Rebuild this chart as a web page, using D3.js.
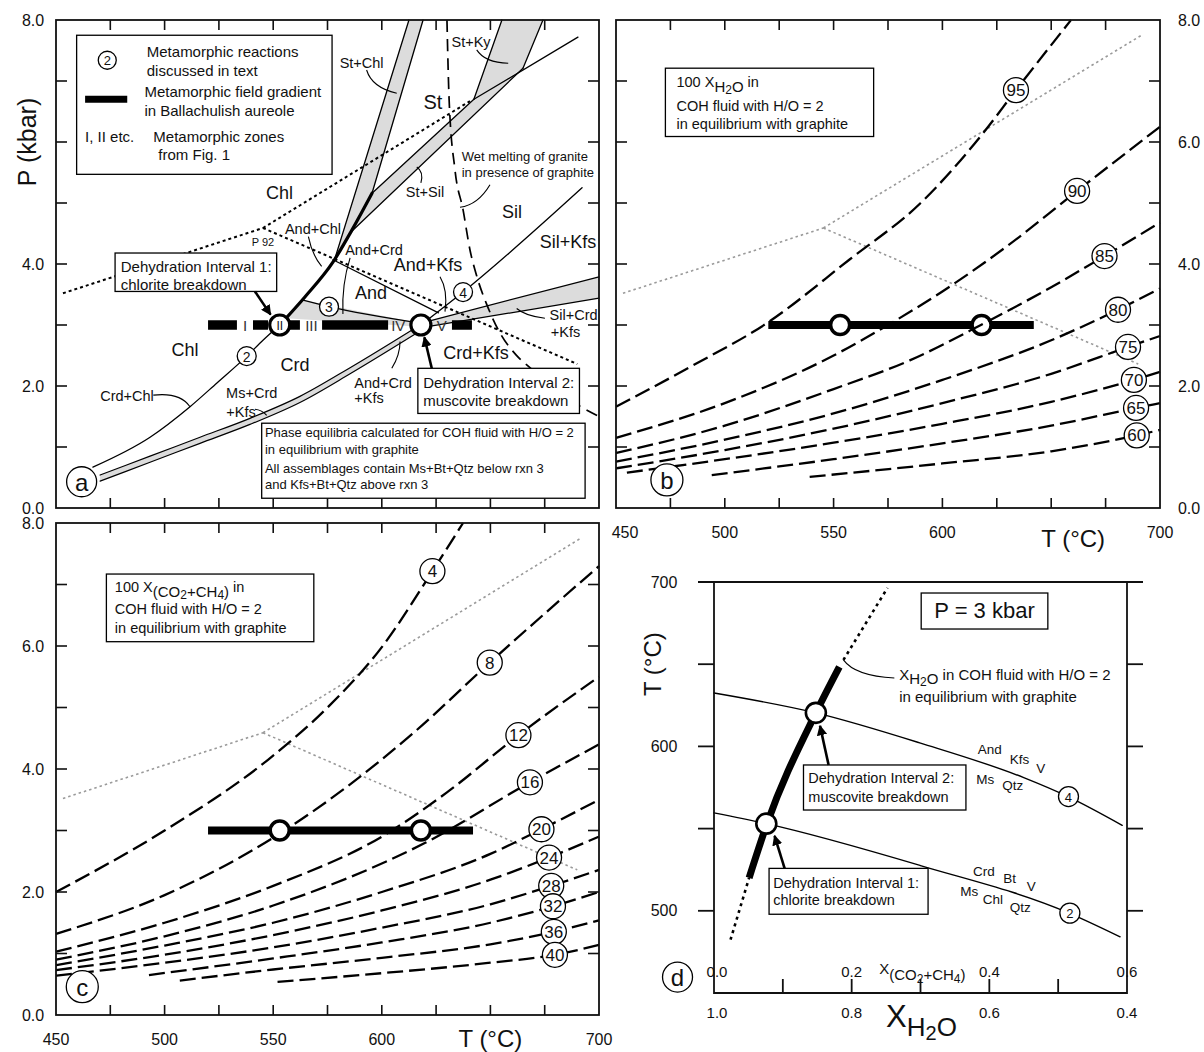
<!DOCTYPE html>
<html lang="en">
<head>
<meta charset="UTF-8" />
<script src="https://cdn.jsdelivr.net/npm/d3@7"></script>
<title>Ballachulish aureole phase diagrams</title>
<style>
  body { margin: 0; background: #fff; }
  svg { font-family: "Liberation Sans", Arial, Helvetica, sans-serif; }
</style>
</head>
<body>
<svg id="fig" width="1204" height="1052"></svg>
<script>
// ---------------- data ----------------
// axes
const tTicks = d3.range(475, 700, 25);
const pTicks = d3.range(1, 8);
const pLabels = [0, 2, 4, 6, 8];
const tLabels = [450, 500, 550, 600, 650, 700];

// panel a curves, [T degC, P kbar]
const rxn2 = [[467, 0.67], [493.3, 1.16], [511.7, 1.66], [524.1, 2.05], [537.9, 2.49], [545.3, 2.75], [553, 3.0]];
const rxn2Thick = [[553, 3.0], [564.6, 3.46], [577.5, 4.03], [586.3, 4.56], [595.5, 5.16]];
const stChlLeft = [[578.5, 4.10], [612.5, 8.0]];
const stChlRight = [[595.5, 5.16], [619, 8.0]];
const stSilLower = [[585.7, 4.52], [665, 7.21]];
const stSilUpper = [[595.5, 5.16], [642.4, 6.70]];
const kySil = [[642.4, 6.70], [690.3, 7.72]];
const stKyLeft = [[642.4, 6.70], [655.3, 8.0]];
const stKyRight = [[665, 7.21], [674.2, 8.0]];
const andSil = [[577.5, 4.07], [626.1, 3.20]];
const rxn3 = [[563.3, 3.41], [575.7, 3.30], [617.6, 3.03]];
const rxn4 = [[618, 3.0], [637.4, 3.54], [692.2, 5.25]];
const wetMelt = [[630, 8.0], [631, 6.69], [633.7, 5.54], [637.4, 4.89], [640.6, 4.23], [643.8, 3.79],
  [648.4, 3.33], [654.4, 2.87], [661.8, 2.51], [668.2, 2.30], [679.7, 1.97], [691.2, 1.67], [699.5, 1.51]];
const p92Left = [[453.2, 3.52], [545.3, 4.59]];
const p92KyA = [[545.3, 4.59], [640.6, 6.67]];
const p92KyB = [[545.3, 4.59], [691.5, 7.75]];
const p92Sil = [[545.3, 4.59], [690, 2.36]];
// bands [T, Plow, Phigh]
const msCrdKfs = [[470.3, 0.44, 0.54], [493.3, 0.75, 0.85], [516.3, 1.06, 1.16], [539.3, 1.37, 1.47],
  [562.3, 1.73, 1.83], [585.4, 2.20, 2.30], [616.7, 2.88, 2.98]];
const silCrdKfs = [[619, 2.96, 3.04], [700, 3.44, 3.79]];
const stChlFill = [[578.5, 4.10], [612.5, 8.0], [619, 8.0], [595.5, 5.16], [586.3, 4.56]];
const stSilFill = [[585.7, 4.52], [665, 7.21], [642.4, 6.70], [595.5, 5.16], [586.3, 4.56]];
const stKyFill = [[642.4, 6.70], [655.3, 8.0], [674.2, 8.0], [665, 7.21]];
const rxn3Fill = [[563.3, 3.41], [617.6, 3.03], [617.6, 2.97], [555.7, 3.11]];

// field gradient at 3 kbar and dehydration points
const gradientP = 3;
const gradientT = [520, 642];
const gradientSegs = [[520, 533.3], [540.7, 547.6], [556.8, 562.3], [572.5, 602.9], [632.3, 641.5]];
const zoneLabels = [["I", 537], ["III", 567.6], ["IV", 607.6], ["V", 627.6]];
const dehydT = [553, 618];

// panel b isopleths, 100 X(H2O)
const h2oLabels = [95, 90, 85, 80, 75, 70, 65, 60];
const h2oLabelT = [633.8, 661.9, 674.5, 680.7, 685.3, 688, 689, 689.3];
const h2oLines = [
  [[450, 1.66], [485, 2.33], [519.3, 3.03], [557.2, 4.07], [590, 5.0], [618.6, 6.14], [633.8, 6.85], [659.1, 8.0]],
  [[450, 1.15], [500, 1.72], [550, 2.5], [575, 3.0], [600, 3.55], [630, 4.3], [662, 5.2], [700, 6.25]],
  [[450, 0.9], [500, 1.35], [550, 1.95], [585, 2.42], [617.7, 3.0], [650, 3.62], [674.5, 4.13], [700, 4.68]],
  [[450, 0.76], [500, 1.12], [550, 1.55], [600, 2.1], [650, 2.75], [680.7, 3.25], [700, 3.6]],
  [[450, 0.65], [500, 0.95], [550, 1.3], [600, 1.72], [650, 2.2], [685.3, 2.64], [700, 2.82]],
  [[455, 0.58], [500, 0.8], [550, 1.07], [600, 1.38], [650, 1.74], [688, 2.1], [700, 2.23]],
  [[494, 0.54], [550, 0.8], [600, 1.06], [650, 1.35], [689, 1.64], [700, 1.72]],
  [[539, 0.51], [600, 0.73], [650, 0.93], [689.3, 1.19], [700, 1.28]]
];

// panel c isopleths, 100 X(CO2+CH4)
const co2Labels = [4, 8, 12, 16, 20, 24, 28, 32, 36, 40];
const co2LabelT = [623.3, 649.7, 662.9, 668.2, 673.5, 677, 678, 678.8, 679.2, 679.7];
const co2Lines = [
  [[450, 2.0], [500, 3.0], [547.6, 4.15], [575, 5.0], [600.4, 6.0], [623, 7.2], [637.4, 8.0]],
  [[450, 1.32], [500, 1.95], [553, 2.95], [582, 3.66], [615, 4.6], [649.7, 5.73], [700, 7.3]],
  [[450, 1.03], [500, 1.5], [550, 2.1], [600, 2.9], [630, 3.62], [662.9, 4.55], [700, 5.5]],
  [[450, 0.9], [500, 1.28], [550, 1.78], [620, 2.8], [668, 3.78], [700, 4.4]],
  [[450, 0.81], [500, 1.13], [550, 1.5], [600, 2.0], [650, 2.62], [673.5, 3.02], [700, 3.5]],
  [[450, 0.73], [500, 0.98], [550, 1.3], [600, 1.7], [650, 2.2], [677, 2.56], [700, 2.9]],
  [[450, 0.64], [500, 0.85], [550, 1.1], [600, 1.42], [650, 1.8], [678, 2.1], [700, 2.36]],
  [[492.8, 0.65], [550, 0.92], [600, 1.18], [650, 1.5], [679, 1.77], [700, 2.0]],
  [[507, 0.56], [550, 0.74], [600, 0.93], [650, 1.15], [679, 1.35], [700, 1.54]],
  [[552, 0.54], [600, 0.68], [650, 0.85], [680, 0.98], [700, 1.14]]
];

// panel d, [X(CO2+CH4), T]
const dTLabels = [500, 600, 700];
const dTTicks = [500, 550, 600, 650, 700];
const dXTicks = [0.1, 0.2, 0.3, 0.4, 0.5];
const dXLabels = [0, 0.2, 0.4, 0.6];
const rxn4D = [[0, 632.5], [0.148, 620.4], [0.3, 602], [0.45, 581], [0.515, 569.3], [0.593, 552]];
const rxn2D = [[0, 559.6], [0.076, 553], [0.3, 527.5], [0.515, 498.8], [0.59, 484.2]];
const fluidLow = [[0.024, 482.4], [0.051, 520]];
const fluidMain = [[0.051, 520], [0.077, 553], [0.148, 620.4], [0.182, 648.3]];
const fluidHigh = [[0.188, 652.6], [0.252, 696.4]];
const dehydD = [[0.076, 553], [0.148, 620.4]];

// ---------------- scales ----------------
const svg = d3.select("#fig");
svg.append("rect").attr("width", 1204).attr("height", 1052).attr("fill", "#fff");
const xA = d3.scaleLinear().domain([450, 700]).range([56, 599]);
const yA = d3.scaleLinear().domain([0, 8]).range([508, 20]);
const xB = d3.scaleLinear().domain([450, 700]).range([616, 1160]);
const yB = yA;
const xC = xA;
const yC = d3.scaleLinear().domain([0, 8]).range([1015, 523]);
const xD = d3.scaleLinear().domain([0, 0.6]).range([714, 1127]);
const yD = d3.scaleLinear().domain([450, 700]).range([993, 582]);

const GRAY = "#dcdcdc";
const defs = svg.append("defs");
defs.append("marker").attr("id", "ah").attr("viewBox", "0 0 10 10")
  .attr("refX", 9).attr("refY", 5).attr("markerWidth", 4).attr("markerHeight", 4)
  .attr("orient", "auto").append("path").attr("d", "M0,0L10,5L0,10z").attr("fill", "#000");

// ---------------- helpers ----------------
function lineGen(x, y, curve) {
  return d3.line().x(d => x(d[0])).y(d => y(d[1])).curve(curve || d3.curveMonotoneX);
}
function path(g, x, y, pts, w, dash, col, curve) {
  return g.append("path").attr("d", lineGen(x, y, curve)(pts)).attr("fill", "none")
    .attr("stroke", col || "#000").attr("stroke-width", w).attr("stroke-dasharray", dash || null)
    .attr("stroke-linecap", dash ? "butt" : "round");
}
function poly(g, x, y, pts) {
  g.append("path").attr("d", lineGen(x, y, d3.curveLinear)(pts) + "Z").attr("fill", GRAY).attr("stroke", "none");
}
function band(g, x, y, pts) {
  g.append("path").attr("fill", GRAY).attr("stroke", "none")
    .attr("d", d3.area().x(d => x(d[0])).y0(d => y(d[1])).y1(d => y(d[2])).curve(d3.curveMonotoneX)(pts));
  path(g, x, y, pts.map(d => [d[0], d[1]]), 1.2);
  path(g, x, y, pts.map(d => [d[0], d[2]]), 1.2);
}
function txt(g, x, y, s, size, anchor) {
  return g.append("text").attr("x", x).attr("y", y).attr("font-size", size)
    .attr("text-anchor", anchor || "middle").attr("dominant-baseline", "central").attr("fill", "#111").text(s);
}
function rich(g, x, y, parts, size, anchor) {
  const t = g.append("text").attr("x", x).attr("y", y).attr("font-size", size)
    .attr("text-anchor", anchor || "start").attr("fill", "#111");
  parts.forEach(([s, dy, fs]) => t.append("tspan").attr("dy", dy).attr("font-size", fs || size).text(s));
  return t;
}
function circ(g, cx, cy, r, sw, label, size) {
  g.append("circle").attr("cx", cx).attr("cy", cy).attr("r", r)
    .attr("fill", "#fff").attr("stroke", "#000").attr("stroke-width", sw);
  if (label !== undefined) txt(g, cx, cy + 0.5, label, size);
}
function box(g, x, y, t0, t1, p0, p1, lines, size) {
  g.append("rect").attr("x", x(t0)).attr("y", y(p0)).attr("width", x(t1) - x(t0)).attr("height", y(p1) - y(p0))
    .attr("fill", "#fff").attr("stroke", "#000").attr("stroke-width", 1.3);
  (lines || []).forEach(l => txt(g, x(l[1]), y(l[2]), l[0], size, "start"));
}
function leader(g, x, y, l) {
  g.append("path").attr("fill", "none").attr("stroke", "#000").attr("stroke-width", 1.1)
    .attr("d", `M${x(l[0][0])},${y(l[0][1])}Q${x(l[1][0])},${y(l[1][1])} ${x(l[2][0])},${y(l[2][1])}`);
}
function arrow(g, x, y, a, b) {
  g.append("line").attr("x1", x(a[0])).attr("y1", y(a[1])).attr("x2", x(b[0])).attr("y2", y(b[1]))
    .attr("stroke", "#000").attr("stroke-width", 2.6).attr("marker-end", "url(#ah)");
}
function frame(g, x, y) {
  const [x0, x1] = x.range(), [yb, yt] = y.range();
  g.append("rect").attr("x", x0).attr("y", yt).attr("width", x1 - x0).attr("height", yb - yt)
    .attr("fill", "none").attr("stroke", "#111").attr("stroke-width", 1.8);
  const tk = g.append("g").attr("stroke", "#111").attr("stroke-width", 1.6);
  tTicks.forEach(v => {
    tk.append("line").attr("x1", x(v)).attr("x2", x(v)).attr("y1", yb).attr("y2", yb - 10);
    tk.append("line").attr("x1", x(v)).attr("x2", x(v)).attr("y1", yt).attr("y2", yt + 10);
  });
  pTicks.forEach(v => {
    tk.append("line").attr("x1", x0).attr("x2", x0 + 11).attr("y1", y(v)).attr("y2", y(v));
    tk.append("line").attr("x1", x1).attr("x2", x1 - 11).attr("y1", y(v)).attr("y2", y(v));
  });
}
function pAxisLabels(g, x, y, side, skip) {
  const [x0, x1] = x.range();
  pLabels.filter(v => v !== skip)
    .forEach(v => txt(g, side === "left" ? x0 - 23 : x1 + 29, y(v), d3.format(".1f")(v), 16));
}
function tAxisLabels(g, x, y, titleDx, titleDy, offset450) {
  const yb = y.range()[0];
  tLabels.forEach(v => {
    if (v === 650) txt(g, x(v) + titleDx, yb + titleDy, "T (°C)", 24);
    else txt(g, x(v) + (v === 450 ? offset450 : 0), yb + 24, String(v), 16);
  });
}
function isopleths(g, x, y, lines, labels, labelT) {
  lines.forEach(l => path(g, x, y, l, 2.3, "16,6"));
  lines.forEach((l, i) => {
    const t = labelT[i];
    const k = l.findIndex(d => d[0] >= t);
    const a = l[k - 1], b = l[k];
    const p = a[1] + (b[1] - a[1]) * (t - a[0]) / (b[0] - a[0]);
    circ(g, x(t), y(p), 12.5, 1.3, labels[i], 17);
  });
}
function p92Gray(g, x, y) {
  [p92Left, p92KyB, p92Sil].forEach(l => path(g, x, y, l, 1.6, "2.5,3", "#9a9a9a", d3.curveLinear));
}
function gradientBar(g, x, y) {
  g.append("line").attr("x1", x(gradientT[0])).attr("x2", x(gradientT[1]))
    .attr("y1", y(gradientP)).attr("y2", y(gradientP)).attr("stroke", "#000").attr("stroke-width", 8);
  dehydT.forEach(t => circ(g, x(t), y(gradientP), 9.5, 3.5));
}

// ---------------- panel a ----------------
const gA = svg.append("g");
poly(gA, xA, yA, stChlFill);
poly(gA, xA, yA, stSilFill);
poly(gA, xA, yA, stKyFill);
poly(gA, xA, yA, rxn3Fill);
band(gA, xA, yA, msCrdKfs);
band(gA, xA, yA, silCrdKfs);
[stChlLeft, stChlRight, stSilLower, stSilUpper, kySil, stKyLeft, stKyRight, andSil, rxn3, rxn4, rxn2]
  .forEach(l => path(gA, xA, yA, l, 1.3));
[p92Left, p92KyA, p92Sil].forEach(l => path(gA, xA, yA, l, 2, "3,3", "#000", d3.curveLinear));
path(gA, xA, yA, wetMelt, 1.7, "12,7");
path(gA, xA, yA, rxn2Thick, 3.2);

gradientSegs.forEach(s => gA.append("line").attr("x1", xA(s[0])).attr("x2", xA(s[1]))
  .attr("y1", yA(gradientP)).attr("y2", yA(gradientP)).attr("stroke", "#000").attr("stroke-width", 9.5));
zoneLabels.forEach(z => txt(gA, xA(z[1]), yA(gradientP), z[0], 15).attr("fill", "#333"));

const regionLabels = [["Chl", 552.9, 5.16], ["Chl", 509.4, 2.59], ["Crd", 560, 2.34], ["St", 623.5, 6.66],
  ["Sil", 660, 4.85], ["Sil+Kfs", 685.7, 4.36], ["And", 595, 3.52], ["And+Kfs", 621.3, 3.98], ["Crd+Kfs", 643.4, 2.54]];
regionLabels.forEach(r => txt(gA, xA(r[1]), yA(r[2]), r[0], r[0] === "St" ? 20 : 18));
const fieldLabels = [["St+Chl", 590.7, 7.29], ["St+Ky", 641.1, 7.64], ["St+Sil", 619.9, 5.18], ["And+Chl", 568.3, 4.57],
  ["And+Crd", 596.4, 4.23], ["Crd+Chl", 482.7, 1.84], ["Ms+Crd", 540.1, 1.89], ["+Kfs", 535.2, 1.57],
  ["And+Crd", 600.6, 2.05], ["+Kfs", 594.1, 1.80], ["Sil+Crd", 688.3, 3.16], ["+Kfs", 684.6, 2.89]];
fieldLabels.forEach(r => txt(gA, xA(r[1]), yA(r[2]), r[0], 14.5));
txt(gA, xA(545.3), yA(4.36), "P 92", 11);
txt(gA, xA(636.8), yA(5.76), "Wet melting of granite", 13, "start");
txt(gA, xA(636.8), yA(5.50), "in presence of graphite", 13, "start");

const leadersA = [
  [[593.0, 7.18], [595.5, 6.89], [606.9, 6.80]],
  [[643.7, 7.51], [647.5, 7.30], [658.2, 7.29]],
  [[618.0, 5.33], [619.4, 5.51], [616.1, 5.59]],
  [[649.8, 5.30], [644.3, 4.97], [636, 4.93]],
  [[566.2, 4.45], [567.9, 4.15], [572.3, 3.96]],
  [[585.4, 4.10], [581.5, 3.66], [582.1, 3.18]],
  [[626.8, 3.79], [630.5, 3.57], [629.1, 3.22]],
  [[494.8, 1.85], [507.1, 1.90], [511.7, 1.66]],
  [[541.6, 1.62], [544.8, 1.61], [547, 1.52]],
  [[604.6, 2.29], [608.4, 2.51], [608.4, 2.73]],
  [[675.1, 3.11], [665.9, 3.15], [662.1, 3.27]]
];
leadersA.forEach(l => leader(gA, xA, yA, l));

// legend
box(gA, xA, yA, 459.5, 577.1, 7.75, 5.47, [
  ["Metamorphic reactions", 491.8, 7.48], ["discussed in text", 491.8, 7.18],
  ["Metamorphic field gradient", 490.7, 6.83], ["in Ballachulish aureole", 490.7, 6.52],
  ["I, II etc.", 463.4, 6.09], ["Metamorphic zones", 494.8, 6.09], ["from Fig. 1", 497.1, 5.79]], 15);
circ(gA, xA(473.6), yA(7.34), 9, 1.3, "2", 13);
gA.append("line").attr("x1", xA(463.4)).attr("x2", xA(482.8)).attr("y1", yA(6.70)).attr("y2", yA(6.70))
  .attr("stroke", "#000").attr("stroke-width", 7);

box(gA, xA, yA, 477.2, 551.6, 4.18, 3.55, [["Dehydration Interval 1:", 479.8, 3.96], ["chlorite breakdown", 479.8, 3.67]], 15);
box(gA, xA, yA, 616.6, 691.0, 2.29, 1.55, [["Dehydration Interval 2:", 619.1, 2.05], ["muscovite breakdown", 619.1, 1.76]], 15);
box(gA, xA, yA, 544.7, 693.6, 1.39, 0.16, [
  ["Phase equilibria calculated for COH fluid with H/O = 2", 546.2, 1.23], ["in equilibrium with graphite", 546.2, 0.96],
  ["All assemblages contain Ms+Bt+Qtz below rxn 3", 546.2, 0.65], ["and Kfs+Bt+Qtz above rxn 3", 546.2, 0.39]], 13);
arrow(gA, xA, yA, [541.6, 3.55], [548.8, 3.17]);
arrow(gA, xA, yA, [623, 2.29], [619.6, 2.80]);

dehydT.forEach((t, i) => circ(gA, xA(t), yA(gradientP), 10, 3.2, i === 0 ? "II" : undefined, 12));
[["2", 537.8, 2.49], ["3", 575.7, 3.30], ["4", 637.4, 3.54]].forEach(c => circ(gA, xA(c[1]), yA(c[2]), 9.5, 1.3, c[0], 14));
circ(gA, xA(461.8), yA(0.43), 15, 1.3, "a", 24);
frame(gA, xA, yA);
pAxisLabels(gA, xA, yA, "left", 6);
txt(gA, 27, yA(6), "P (kbar)", 25).attr("transform", `rotate(-90,27,${yA(6)})`);

// ---------------- panel b ----------------
const gB = svg.append("g");
p92Gray(gB, xB, yB);
gradientBar(gB, xB, yB);
isopleths(gB, xB, yB, h2oLines, h2oLabels, h2oLabelT);
box(gB, xB, yB, 472.7, 568.4, 7.21, 6.09, [["COH fluid with H/O = 2", 477.8, 6.59], ["in equilibrium with graphite", 477.8, 6.30]], 14.5);
rich(gB, xB(477.8), yB(6.99) + 5, [["100 X", 0], ["H", 5, 15], ["2", 2, 12], ["O", -2, 15], [" in", -5]], 14.5);
circ(gB, xB(473.4), yB(0.46), 16, 1.3, "b", 24);
frame(gB, xB, yB);
pAxisLabels(gB, xB, yB, "right");
tAxisLabels(gB, xB, yB, 22, 30, 9);

// ---------------- panel c ----------------
const gC = svg.append("g");
p92Gray(gC, xC, yC);
isopleths(gC, xC, yC, co2Lines, co2Labels, co2LabelT);
gradientBar(gC, xC, yC);
box(gC, xC, yC, 473.2, 568.7, 7.17, 6.07, [["COH fluid with H/O = 2", 477.1, 6.60], ["in equilibrium with graphite", 477.1, 6.29]], 14.5);
rich(gC, xC(477.1), yC(6.96) + 5, [["100 X", 0], ["(CO", 5, 15], ["2", 2, 12], ["+CH", -2, 15], ["4", 2, 12], [")", -2, 15], [" in", -5]], 14.5);
circ(gC, xC(462.1), yC(0.46), 16, 1.3, "c", 24);
frame(gC, xC, yC);
pAxisLabels(gC, xC, yC, "left");
tAxisLabels(gC, xC, yC, 0, 23, 0);

// ---------------- panel d ----------------
const gD = svg.append("g");
path(gD, xD, yD, rxn4D, 1.4);
path(gD, xD, yD, rxn2D, 1.4);
path(gD, xD, yD, fluidLow, 2.6, "3,4", "#000", d3.curveLinear);
path(gD, xD, yD, fluidHigh, 2.6, "3,4", "#000", d3.curveLinear);
path(gD, xD, yD, fluidMain, 7).attr("stroke-linecap", "butt");
leader(gD, xD, yD, [[0.188, 652.6], [0.205, 642.8], [0.262, 641.6]]);
rich(gD, xD(0.269), yD(642.4) + 3, [["X", 0], ["H", 4, 15], ["2", 2, 12], ["O", -2, 15], [" in COH fluid with H/O = 2", -4]], 15);
txt(gD, xD(0.269), yD(630.2), "in equilibrium with graphite", 15, "start");
box(gD, xD, yD, 0.301, 0.485, 693.3, 671.4, [], 22);
txt(gD, xD(0.393), yD(682.4), "P = 3 kbar", 22);
box(gD, xD, yD, 0.13, 0.366, 588.7, 561.3, [["Dehydration Interval 2:", 0.137, 580.8], ["muscovite breakdown", 0.137, 569.4]], 14.5);
box(gD, xD, yD, 0.08, 0.311, 525.8, 497.9, [["Dehydration Interval 1:", 0.086, 517.1], ["chlorite breakdown", 0.086, 506.6]], 14.5);
arrow(gD, xD, yD, [0.1665, 588.7], [0.154, 612.5]);
arrow(gD, xD, yD, [0.1026, 525.8], [0.088, 545.6]);
[["And", 0.4007, 598.2], ["Kfs", 0.444, 592.1], ["V", 0.4747, 586.7], ["Ms", 0.394, 580], ["Qtz", 0.434, 576.1],
 ["Crd", 0.392, 523.8], ["Bt", 0.4296, 519.8], ["V", 0.461, 514.7], ["Ms", 0.3707, 511.6], ["Chl", 0.405, 506.6], ["Qtz", 0.445, 502.1]]
  .forEach(r => txt(gD, xD(r[1]), yD(r[2]), r[0], 13.5));
[["4", 0.515, 569.5], ["2", 0.517, 498.6]].forEach(c => circ(gD, xD(c[1]), yD(c[2]), 10, 1.3, c[0], 13));
dehydD.forEach(d => circ(gD, xD(d[0]), yD(d[1]), 10, 2.6));

// frame and axes of d
{
  const [x0, x1] = xD.range(), [yb, yt] = yD.range();
  const fr = gD.append("g").attr("stroke", "#111").attr("stroke-width", 1.8).attr("fill", "none");
  fr.append("path").attr("d", `M${x0},${yt}V${yb}H${x1}V${yt}`);
  fr.append("line").attr("x1", x0 - 16).attr("x2", x1 + 16).attr("y1", yt).attr("y2", yt);
  dTTicks.forEach(v => {
    fr.append("line").attr("x1", x0 - 16).attr("x2", x0).attr("y1", yD(v)).attr("y2", yD(v));
    fr.append("line").attr("x1", x1).attr("x2", x1 + 16).attr("y1", yD(v)).attr("y2", yD(v));
  });
  dXTicks.forEach(v => fr.append("line").attr("x1", xD(v)).attr("x2", xD(v)).attr("y1", yb).attr("y2", yb - 14));
  dTLabels.forEach(v => txt(gD, x0 - 50, yD(v), String(v), 16));
  dXLabels.forEach(v => txt(gD, xD(v) + (v === 0 ? 3 : 0), yb - 22, d3.format(".1f")(v), 15));
  dXLabels.forEach(v => txt(gD, xD(v) + (v === 0 ? 3 : 0), yb + 19, d3.format(".1f")(1 - v), 15));
  rich(gD, xD(0.24), yb - 19, [["X", 0], ["(CO", 6, 15], ["2", 3, 12], ["+CH", -3, 15], ["4", 3, 12], [")", -3, 15]], 15);
  rich(gD, xD(0.25), yb + 34, [["X", 0], ["H", 9, 26], ["2", 4, 20], ["O", -4, 26]], 31);
  txt(gD, x0 - 61, yD(650), "T (°C)", 24).attr("transform", `rotate(-90,${x0 - 61},${yD(650)})`);
  circ(gD, xD(-0.053), yD(459.7), 15, 1.3, "d", 24);
}
</script>
</body>
</html>
